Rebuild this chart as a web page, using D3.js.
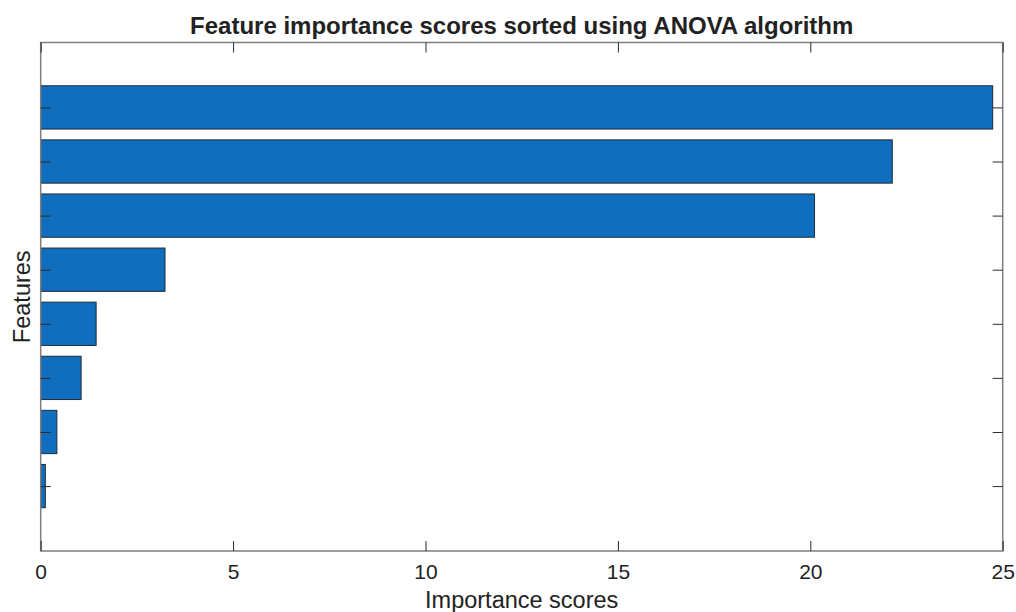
<!DOCTYPE html>
<html>
<head>
<meta charset="utf-8">
<script src="https://cdn.jsdelivr.net/npm/d3@7"></script>
<style>
  html, body { margin: 0; padding: 0; background: #fff; }
  svg { display: block; font-family: "Liberation Sans", Arial, Helvetica, sans-serif; }
</style>
</head>
<body>
<svg id="chart" width="1016" height="612"></svg>
<script>
// Features ranked by ANOVA importance score (top to bottom)
const features = [1, 2, 3, 4, 5, 6, 7, 8];
const scores = [24.74, 22.13, 20.11, 3.23, 1.44, 1.05, 0.42, 0.12];
const xTicks = [0, 5, 10, 15, 20, 25];

const titleText = "Feature importance scores sorted using ANOVA algorithm";
const xLabel = "Importance scores";
const yLabel = "Features";

const W = 1016, H = 612;
const margin = { left: 40.7, right: W - 1002.7, top: 42.5, bottom: H - 551 };

const svg = d3.select("#chart");

const x = d3.scaleLinear().domain([0, 25]).range([margin.left, W - margin.right]);
// Position 1 sits at the top, 8 at the bottom
const y = d3.scaleLinear().domain([-0.2, 9.2]).range([margin.top, H - margin.bottom]);
const barWidth = 0.8;

const fill = "#0f6fbe";
const edge = "#1f2a36";
const boxColor = "#7f7f7f";
const tickColor = "#2b2b2b";
const tickLen = 10;

// Bars
svg.append("g")
  .selectAll("rect")
  .data(features)
  .join("rect")
  .attr("x", x(0))
  .attr("y", (d) => y(d - barWidth / 2))
  .attr("width", (d, i) => x(scores[i]) - x(0))
  .attr("height", y(barWidth) - y(0))
  .attr("fill", fill)
  .attr("stroke", edge)
  .attr("stroke-width", 1);

// Axes box
svg.append("rect")
  .attr("x", x(0))
  .attr("y", margin.top)
  .attr("width", x(25) - x(0))
  .attr("height", H - margin.bottom - margin.top)
  .attr("fill", "none")
  .attr("stroke", boxColor)
  .attr("stroke-width", 1.5);

// Bottom axis with inward ticks
const bottomAxis = d3.axisBottom(x).tickValues(xTicks).tickFormat(d3.format("d"))
  .tickSizeInner(-tickLen).tickSizeOuter(0).tickPadding(13);
const gx = svg.append("g").attr("transform", `translate(0,${H - margin.bottom})`).call(bottomAxis);
gx.select(".domain").remove();
gx.selectAll(".tick line").attr("stroke", tickColor).attr("stroke-width", 1);
gx.selectAll(".tick text").attr("font-size", 21).attr("fill", "#222")
  .attr("font-family", "'Liberation Sans', Arial, sans-serif");

// Top axis ticks (no labels)
const topAxis = d3.axisTop(x).tickValues(xTicks).tickFormat("")
  .tickSizeInner(-tickLen).tickSizeOuter(0);
const gt = svg.append("g").attr("transform", `translate(0,${margin.top})`).call(topAxis);
gt.select(".domain").remove();
gt.selectAll(".tick line").attr("stroke", tickColor).attr("stroke-width", 1);

// Left and right ticks at each feature position (no labels)
const leftAxis = d3.axisLeft(y).tickValues(features).tickFormat("")
  .tickSizeInner(-tickLen).tickSizeOuter(0);
const gl = svg.append("g").attr("transform", `translate(${x(0)},0)`).call(leftAxis);
gl.select(".domain").remove();
gl.selectAll(".tick line").attr("stroke", tickColor).attr("stroke-width", 1);

const rightAxis = d3.axisRight(y).tickValues(features).tickFormat("")
  .tickSizeInner(-tickLen).tickSizeOuter(0);
const gr = svg.append("g").attr("transform", `translate(${x(25)},0)`).call(rightAxis);
gr.select(".domain").remove();
gr.selectAll(".tick line").attr("stroke", tickColor).attr("stroke-width", 1);

// Title
svg.append("text")
  .attr("x", (x(0) + x(25)) / 2)
  .attr("y", 34)
  .attr("text-anchor", "middle")
  .attr("font-size", 24)
  .attr("font-weight", "bold")
  .attr("fill", "#222")
  .text(titleText);

// X axis label
svg.append("text")
  .attr("x", (x(0) + x(25)) / 2)
  .attr("y", 608)
  .attr("text-anchor", "middle")
  .attr("font-size", 23.5)
  .attr("fill", "#222")
  .text(xLabel);

// Y axis label
svg.append("text")
  .attr("transform", `translate(30,${(margin.top + H - margin.bottom) / 2}) rotate(-90)`)
  .attr("text-anchor", "middle")
  .attr("font-size", 23.5)
  .attr("fill", "#222")
  .text(yLabel);
</script>
</body>
</html>
